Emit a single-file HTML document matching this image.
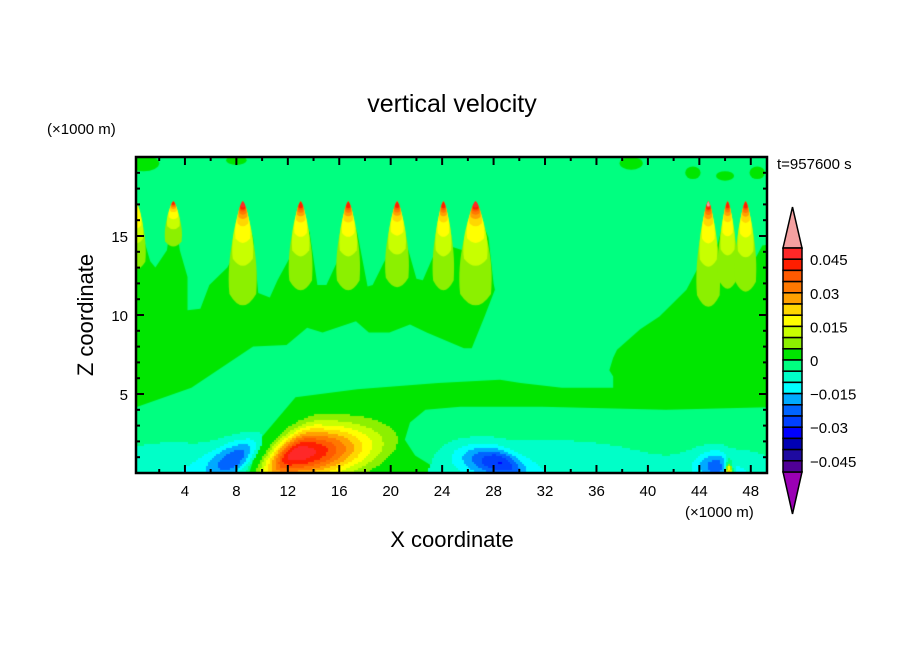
<!DOCTYPE html>
<html><head><meta charset="utf-8"><style>
html,body{margin:0;padding:0;background:#fff;}
#wrap{position:relative;width:904px;height:654px;overflow:hidden;}
canvas,svg{position:absolute;left:0;top:0;}
text{font-family:"Liberation Sans",sans-serif;fill:#000;}
</style></head><body>
<div id="wrap">
<canvas id="cv" width="904" height="654"></canvas>
<svg id="sv" width="904" height="654"></svg>
</div>
<script>
// ---- data (x in 1000 m, z in 1000 m, values in m/s) ----
const levelColors = ["#9a00b4","#500096","#1e0aa0","#0000b4","#0000ff","#0040ff","#0064ff","#00aaff","#00ffff","#00ffc8","#00ff80","#00e600","#8cf000","#c8ff00","#ffff00","#ffd700","#ffa000","#ff7800","#ff5a00","#ff1e00","#ff2828","#f4a0a0"];
const levelMin = -0.05, levelStep = 0.005;
const xTicks = [4,8,12,16,20,24,28,32,36,40,44,48];
const zTicks = [5,10,15];
const cbLabels = ["0.045","0.03","0.015","0","\u22120.015","\u22120.03","\u22120.045"];
const cbLabelVals = [0.045,0.03,0.015,0,-0.015,-0.03,-0.045];
// upper green (0..0.005) region outline
const mainGreenX = [-1,0,1.3,1.7,2.6,3.1,3.6,4.2,4.2,5.2,5.9,7.3,8.0,8.5,9.3,9.7,10.6,11.2,12.2,13.0,13.7,14.3,15.0,15.8,16.7,17.4,18.2,18.6,19.7,20.5,21.3,22.0,22.5,23.3,24.1,24.8,25.6,26.6,27.6,28.0,28.1,27.3,26.3,25.7,22.8,21.5,19.9,18.3,17.3,14.7,13.5,11.9,9.3,4.5,0,-1];
const mainGreenZ = [17,17,13.4,13.0,14.1,17,14.1,12.4,10.3,10.4,11.9,13.0,14.1,17,14.9,11.4,11.1,12.2,13.7,17,15.2,11.9,11.9,13.3,17,15.2,11.8,11.9,13.7,17,14.3,12.3,12.2,13.7,17,14.3,14.1,17,14.9,12.0,11.6,9.9,7.9,7.9,8.9,9.4,8.9,8.9,9.6,8.9,9.2,8.1,8.0,5.4,4.1,4.1];
// lower band + right green region outline
const lowGreenX = [9.0,9.8,12.6,17.4,23.7,28.5,30.1,33.3,37.3,37.3,37.0,37.3,37.6,39.4,40.9,43.0,44.1,44.1,44.7,45.4,46.2,46.8,47.6,48.3,48.9,51,51,41.4,31.8,25.4,22.7,21.5,21.1,21.9,24.1];
const lowGreenZ = [0,2.1,4.8,5.3,5.7,5.9,5.7,5.4,5.4,6.1,6.5,7.3,7.8,9.1,9.9,11.6,13.3,14.1,17,14.4,17,13.8,17,13.5,14.4,14.7,4.2,4.0,4.2,4.2,4.0,3.2,2.1,1.1,0];
// updraft plumes at tropopause
const spikeX = [0.2,3.1,8.5,13.0,16.7,20.5,24.1,26.6,44.7,46.2,47.6];
const spikeLen = [4.5,3.0,6.9,5.9,5.9,5.7,5.9,6.9,7.0,5.8,6.0];
const spikeWidth = [0.9,0.8,1.3,1.1,1.1,1.1,1.0,1.5,1.1,0.9,1.0];
const spikePeak = [14,19,20,19,19,19,19,20,21,19,19];
// gaussian cells near the ground
const blobX = [12.6,8.0,28.4,45.3,46.3,3.0,32.0,47.0];
const blobZ = [1.2,0.95,0.7,0.5,0.1,0,0,0];
const blobA = [0.05,-0.019,-0.022,-0.014,0.035,-0.0095,-0.0095,-0.0085];
const blobSxL = [1.9,2.0,2.8,1.5,0.25,7,12,4];
const blobSxR = [5.5,1.3,1.6,0.8,0.25,7,12,4];
const blobSz = [1.7,1.3,1.0,0.9,0.6,2.4,2.6,1.6];
const blobTilt = [0.9,0.9,-1.0,0,0,0,0,0];
// small patches near the model top
const patchX = [0.8,8.0,38.7,43.5,46.0,48.5];
const patchZ = [19.6,19.8,19.6,19.0,18.8,19.0];
const patchRx = [1.2,0.8,0.9,0.6,0.7,0.6];
const patchRz = [0.5,0.3,0.4,0.4,0.3,0.4];
// plume layer size fractions (by level above 0.005)
const layerLen = [1,0.62,0.4,0.24,0.17,0.13,0.1,0.08,0.06,0.05];
const layerWid = [1,0.75,0.55,0.4,0.32,0.26,0.22,0.18,0.15,0.12];

// ---- axes ----
const L=136,R=767,T=157,B=473;
const X = v => 133.5 + 12.86*v;
const Z = v => 473 - 15.8*v;

const cv=document.getElementById('cv');
const ctx=cv.getContext('2d');
ctx.save();
ctx.beginPath();ctx.rect(L,T,R-L,B-T);ctx.clip();
ctx.fillStyle="#00ff80";ctx.fillRect(L,T,R-L,B-T);
function poly(xs,zs,col){ctx.fillStyle=col;ctx.beginPath();xs.forEach((x,i)=>{i?ctx.lineTo(X(x),Z(zs[i])):ctx.moveTo(X(x),Z(zs[i]));});ctx.closePath();ctx.fill();}
poly(mainGreenX,mainGreenZ,"#00e600");
poly(lowGreenX,lowGreenZ,"#00e600");
ctx.fillStyle="#00e600";
patchX.forEach((x,i)=>{ctx.beginPath();ctx.ellipse(X(x),Z(patchZ[i]),patchRx[i]*12.86,patchRz[i]*15.8,0,0,Math.PI*2);ctx.fill();});
// plumes
function drop(cx,len,hw,col){
  const zt=17.2;const px=X(cx),pt=Z(zt),pb=Z(zt-len),w=hw*12.86;
  ctx.fillStyle=col;ctx.beginPath();ctx.moveTo(px,pt);
  ctx.bezierCurveTo(px+w*0.4,pt+(pb-pt)*0.2,px+w,pt+(pb-pt)*0.5,px+w*0.8,pt+(pb-pt)*0.85);
  ctx.quadraticCurveTo(px,pb+(pb-pt)*0.06,px-w*0.8,pt+(pb-pt)*0.85);
  ctx.bezierCurveTo(px-w,pt+(pb-pt)*0.5,px-w*0.4,pt+(pb-pt)*0.2,px,pt);
  ctx.fill();
}
spikeX.forEach((x,i)=>{
  const n=spikePeak[i]-11;
  for(let k=1;k<=n;k++){
    drop(x,spikeLen[i]*layerLen[k-1],spikeWidth[i]*layerWid[k-1],levelColors[11+k]);
  }
});
// ground cells
function field(x,z){let s=0;for(let i=0;i<blobX.length;i++){let dz=z-blobZ[i];let dx=x-blobX[i]-blobTilt[i]*dz;let sx=dx<0?blobSxL[i]:blobSxR[i];s+=blobA[i]*Math.exp(-(dx*dx)/(sx*sx)-(dz*dz)/(blobSz[i]*blobSz[i]));}return s;}
for(let py=Math.floor(Z(6));py<B;py+=2){for(let px=L;px<R;px+=2){
  const x=(px+1-133.5)/12.86,z=(473-py-1)/15.8;const v=field(x,z);
  if(v>-0.005&&v<0.005)continue;
  let idx=Math.floor((v-levelMin)/levelStep)+1;idx=Math.max(0,Math.min(21,idx));
  ctx.fillStyle=levelColors[idx];ctx.fillRect(px,py,2,2);
}}
ctx.restore();

// ---- SVG axes ----
const sv=document.getElementById('sv');
const NS="http://www.w3.org/2000/svg";
function el(tag,attrs,txt){const e=document.createElementNS(NS,tag);for(const k in attrs)e.setAttribute(k,attrs[k]);if(txt!==undefined)e.textContent=txt;sv.appendChild(e);return e;}
let e;
for(let v=2;v<=48;v+=2){const big=v%4===0;const len=big?8:4;const x=X(v);
  e=el('line',{x1:x,x2:x,y1:B,y2:B-len,stroke:'#000','stroke-width':2});
  
  e=el('line',{x1:x,x2:x,y1:T,y2:T+len,stroke:'#000','stroke-width':2});
  }
for(let v=1;v<=19;v++){const big=v%5===0;const len=big?8:4;const y=Z(v);
  e=el('line',{x1:L,x2:L+len,y1:y,y2:y,stroke:'#000','stroke-width':2});
  
  e=el('line',{x1:R,x2:R-len,y1:y,y2:y,stroke:'#000','stroke-width':2});
  }
e=el('rect',{x:L,y:T,width:R-L,height:B-T,fill:'none',stroke:'#000','stroke-width':2.5});

xTicks.forEach(v=>{e=el('text',{x:X(v),y:496,'text-anchor':'middle','font-size':15},String(v));
  });
zTicks.forEach(v=>{e=el('text',{x:128,y:Z(v)+6,'text-anchor':'end','font-size':15},String(v));
  });
e=el('text',{x:452,y:112,'text-anchor':'middle','font-size':25},'vertical velocity');

e=el('text',{x:47,y:134,'font-size':15},'(\u00d71000 m)');

e=el('text',{x:685,y:517,'font-size':15},'(\u00d71000 m)');

e=el('text',{x:777,y:169,'font-size':15},'t=957600 s');

e=el('text',{x:452,y:547,'text-anchor':'middle','font-size':22},'X coordinate');

e=el('text',{x:0,y:0,'text-anchor':'middle','font-size':22,transform:'translate(93,315) rotate(-90)'},'Z coordinate');

const cbX=783,cbW=19,cbTop=248,cbBot=472,nC=20,cH=(cbBot-cbTop)/nC;
e=el('polygon',{points:`${cbX},${cbTop} ${cbX+cbW/2},207 ${cbX+cbW},${cbTop}`,fill:levelColors[21],stroke:'#000','stroke-width':1.5});

e=el('polygon',{points:`${cbX},${cbBot} ${cbX+cbW/2},514 ${cbX+cbW},${cbBot}`,fill:levelColors[0],stroke:'#000','stroke-width':1.5});

for(let i=0;i<nC;i++){
  e=el('rect',{x:cbX,y:cbTop+i*cH,width:cbW,height:cH,fill:levelColors[20-i],stroke:'#000','stroke-width':1.5});
  }
cbLabels.forEach((t,i)=>{const y=cbTop+(0.05-cbLabelVals[i])/levelStep*cH;
  e=el('text',{x:810,y:y+6,'font-size':15},t);
  });
</script>
</body></html>
